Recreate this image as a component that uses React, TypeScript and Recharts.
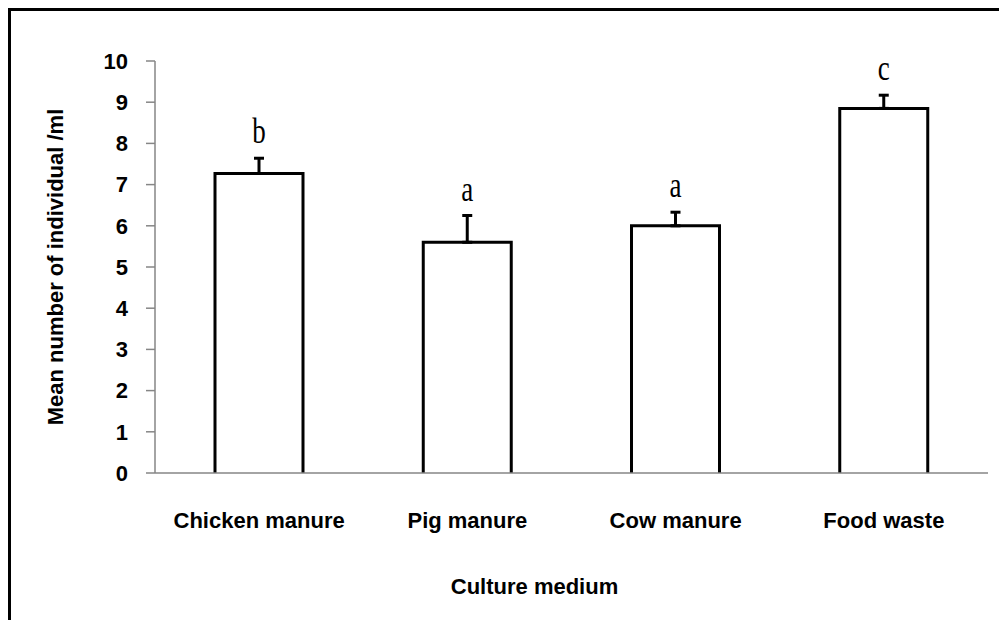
import React from 'react';
import { BarChart, Bar, XAxis, YAxis, ErrorBar, LabelList, Label } from 'recharts';

const categories = ['Chicken manure', 'Pig manure', 'Cow manure', 'Food waste'];
const means = [7.27, 5.6, 6.0, 8.85];
const errors = [0.37, 0.65, 0.33, 0.32];
const letters = ['b', 'a', 'a', 'c'];
const yTicks = [0, 1, 2, 3, 4, 5, 6, 7, 8, 9, 10];

const data = categories.map((name, i) => ({
  name,
  mean: means[i],
  err: [0, errors[i]],
  letter: letters[i],
}));

const sansBold = { fontFamily: '"Liberation Sans", Arial, sans-serif', fontWeight: 700, fontSize: 22, fill: '#000' };

const BarShape = (props: any) => {
  const { x, y, width, height } = props;
  return (
    <g>
      <rect x={x} y={y} width={width} height={height} fill="#fff" stroke="none" />
      <path
        d={`M${x},${y + height} L${x},${y} L${x + width},${y} L${x + width},${y + height}`}
        fill="none"
        stroke="#000"
        strokeWidth={3}
      />
    </g>
  );
};

const LetterLabel = (props: any) => {
  const { x, y, width, height, value, index } = props;
  const i = typeof index === 'number' ? index : letters.indexOf(value);
  const pxPerUnit = height / means[i];
  const capY = y - errors[i] * pxPerUnit;
  const cx = x + width / 2;
  const by = capY - 15;
  return (
    <text
      transform={`translate(${cx},${by}) scale(1,1.35)`}
      x={0}
      y={0}
      textAnchor="middle"
      fontFamily='"Liberation Serif", "Times New Roman", serif'
      fontSize={27}
      fill="#000"
    >
      {value}
    </text>
  );
};

export default function App() {
  return (
    <div style={{ position: 'absolute', left: 0, top: 0, width: 999, height: 620, background: '#fff', overflow: 'hidden' }}>
      <div
        style={{
          position: 'absolute',
          left: 8,
          top: 8,
          width: 991,
          height: 612,
          borderTop: '3px solid #000',
          borderLeft: '3px solid #000',
          boxSizing: 'border-box',
        }}
      />
      <div style={{ position: 'absolute', left: 0, top: 0 }}>
        <BarChart width={999} height={620} data={data} margin={{ top: 61, right: 11, bottom: 0, left: 75 }}>
          <XAxis
            dataKey="name"
            height={147}
            tickLine={false}
            tickSize={0}
            tickMargin={39}
            axisLine={{ stroke: '#868686', strokeWidth: 1.5 }}
            tick={sansBold}
            interval={0}
          >
            <Label
              value="Culture medium"
              position="insideBottom"
              offset={26}
              dx={-37}
              style={sansBold}
            />
          </XAxis>
          <YAxis
            domain={[0, 10]}
            ticks={yTicks}
            width={80}
            tickSize={9}
            tickMargin={18}
            interval={0}
            axisLine={{ stroke: '#868686', strokeWidth: 1.5 }}
            tickLine={{ stroke: '#868686', strokeWidth: 1.5 }}
            tick={sansBold}
          >
            <Label
              value="Mean number of individual /ml"
              angle={-90}
              position="insideLeft"
              offset={-20}
              style={{ ...sansBold, textAnchor: 'middle' }}
            />
          </YAxis>
          <Bar dataKey="mean" barSize={88} shape={<BarShape />} isAnimationActive={false}>
            <ErrorBar dataKey="err" width={5} stroke="#000" strokeWidth={3} direction="y" />
            <LabelList dataKey="letter" content={<LetterLabel />} />
          </Bar>
        </BarChart>
      </div>
    </div>
  );
}
